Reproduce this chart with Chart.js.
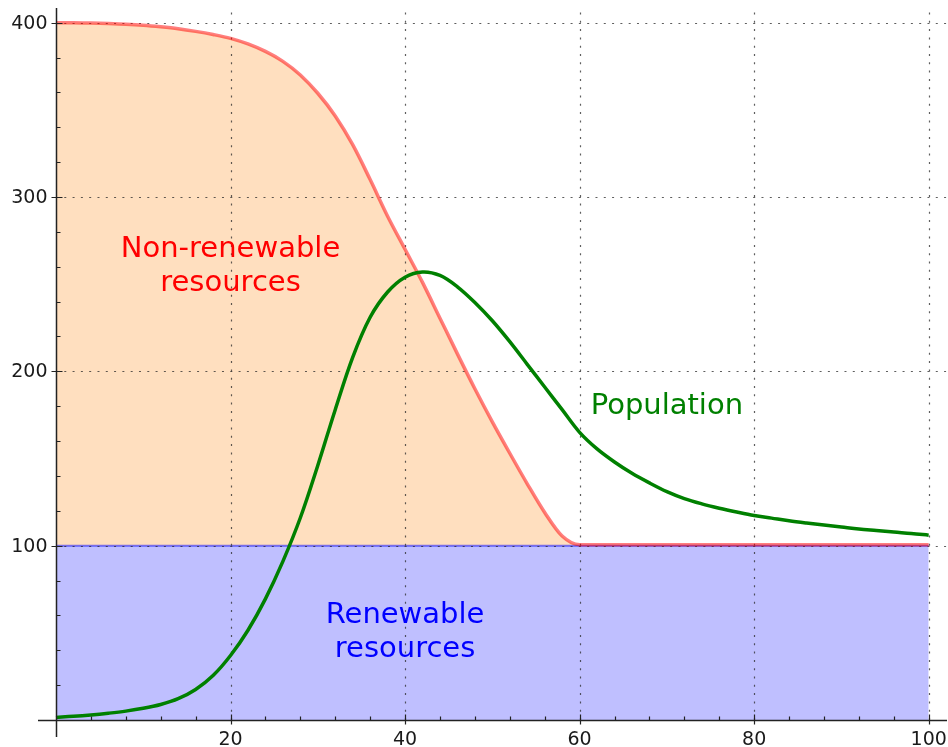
<!DOCTYPE html>
<html>
<head>
<meta charset="utf-8">
<script src="https://cdn.jsdelivr.net/npm/chart.js@4/dist/chart.umd.min.js"></script>
<style>
  html, body { margin: 0; padding: 0; background: #fff; }
  #wrap { width: 948px; height: 747px; }
</style>
</head>
<body>
<div id="wrap"><canvas id="resChart" width="948" height="747"></canvas></div>
<script>
// time axis shared by both curves (every 2 units)
var years = [0, 2, 4, 6, 8, 10, 12, 14, 16, 18, 20, 22, 24, 26, 28, 30, 32, 34, 36, 38,
             40, 42, 44, 46, 48, 50, 52, 54, 56, 58, 60, 62, 64, 66, 68, 70, 72, 74, 76, 78,
             80, 82, 84, 86, 88, 90, 92, 94, 96, 98, 100];
var nonRenewable = [400, 400, 399.8, 399.5, 399.1, 398.5, 397.6, 396.5, 395, 393.2,
                    391, 387.8, 383.5, 377.8, 370, 359.5, 346.5, 330, 310, 289,
                    270, 251, 230.5, 210, 190, 171, 153, 135.5, 119, 105.5,
                    100.5, 100.5, 100.5, 100.5, 100.5, 100.5, 100.5, 100.5, 100.5, 100.5,
                    100.5, 100.5, 100.5, 100.5, 100.5, 100.5, 100.5, 100.5, 100.5, 100.5, 100.5];
var population = [1.5, 2.1, 2.9, 3.9, 5.1, 6.7, 8.9, 12.2, 17.5, 25.5,
                  37, 51.5, 69.5, 91, 116, 146, 178, 208, 231, 245.5,
                  254, 257, 255, 248.5, 239.5, 229, 217, 204, 191, 178,
                  165, 155.5, 148, 141.5, 136, 131, 127, 124, 121.5, 119.3,
                  117.3, 115.8, 114.3, 113, 111.8, 110.7, 109.6, 108.7, 107.8, 107, 106];
var renewX = [0, 100];
var renewY = [100, 100];

var xTicks = [20, 40, 60, 80, 100];
var yTicks = [100, 200, 300, 400];
var xMinorStep = 4;
var yMinorStep = 20;

var nonRenewText = ['Non-renewable', 'resources'];
var renewText = ['Renewable', 'resources'];
var popText = ['Population'];

function pts(xs, ys) {
  return xs.map(function (x, i) { return { x: x, y: ys[i] }; });
}

var sagePlugin = {
  id: 'sageAxes',
  afterDatasetDraw: function (chart, args) {
    if (args.index !== 0) return;
    // dotted grid, drawn over the fills but under the curves
    var ctx = chart.ctx, xs = chart.scales.x, ys = chart.scales.y, area = chart.chartArea;
    var x0 = xs.getPixelForValue(0), y0 = ys.getPixelForValue(0);
    ctx.save();
    ctx.strokeStyle = 'rgba(40,40,40,0.75)';
    ctx.lineWidth = 1.2;
    ctx.setLineDash([2, 6.3]);
    xTicks.forEach(function (v) {
      var px = Math.round(xs.getPixelForValue(v)) + 0.5;
      ctx.beginPath(); ctx.moveTo(px, y0); ctx.lineTo(px, area.top); ctx.stroke();
    });
    yTicks.forEach(function (v) {
      var py = Math.round(ys.getPixelForValue(v)) + 0.5;
      ctx.beginPath(); ctx.moveTo(x0, py); ctx.lineTo(area.right, py); ctx.stroke();
    });
    ctx.restore();
  },
  afterDatasetsDraw: function (chart) {
    var ctx = chart.ctx, xs = chart.scales.x, ys = chart.scales.y, area = chart.chartArea;
    var x0 = Math.round(xs.getPixelForValue(0)) + 0.5;
    var y0 = Math.round(ys.getPixelForValue(0)) + 0.5;
    ctx.save();
    ctx.strokeStyle = '#222';
    ctx.lineWidth = 1.5;
    ctx.beginPath();
    ctx.moveTo(area.left, y0); ctx.lineTo(area.right, y0);
    ctx.moveTo(x0, area.top); ctx.lineTo(x0, area.bottom);
    ctx.stroke();

    ctx.lineWidth = 1.2;
    ctx.beginPath();
    for (var v = xMinorStep; v <= 100; v += xMinorStep) {
      var px = Math.round(xs.getPixelForValue(v)) + 0.5;
      var major = xTicks.indexOf(v) >= 0;
      ctx.moveTo(px, y0 + (major ? 4 : 0));
      ctx.lineTo(px, y0 - (major ? 6 : 4));
    }
    for (var w = yMinorStep; w <= 400; w += yMinorStep) {
      var py = Math.round(ys.getPixelForValue(w)) + 0.5;
      var majorY = yTicks.indexOf(w) >= 0;
      ctx.moveTo(x0 - (majorY ? 5 : 0), py);
      ctx.lineTo(x0 + (majorY ? 6 : 4), py);
    }
    ctx.stroke();

    ctx.fillStyle = '#1a1a1a';
    ctx.font = '19px "DejaVu Sans"';
    ctx.textAlign = 'center';
    ctx.textBaseline = 'top';
    xTicks.forEach(function (v) {
      ctx.fillText(String(v), xs.getPixelForValue(v), y0 + 10);
    });
    ctx.textAlign = 'right';
    ctx.textBaseline = 'middle';
    yTicks.forEach(function (v) {
      ctx.fillText(String(v), x0 - 9, ys.getPixelForValue(v) + 1);
    });

    // curve labels
    ctx.font = '29px "DejaVu Sans"';
    ctx.textAlign = 'center';
    ctx.textBaseline = 'middle';
    var notes = [
      { lines: nonRenewText, x: 20, y: 260, color: '#ff0000' },
      { lines: renewText, x: 40, y: 50, color: '#0000ff' },
      { lines: popText, x: 70, y: 180, color: '#008000' }
    ];
    notes.forEach(function (n) {
      var cx = xs.getPixelForValue(n.x), cy = ys.getPixelForValue(n.y);
      var lh = 34, top = cy - (n.lines.length - 1) * lh / 2;
      ctx.fillStyle = n.color;
      n.lines.forEach(function (t, i) { ctx.fillText(t, cx, top + i * lh); });
    });
    ctx.restore();
  }
};

new Chart(document.getElementById('resChart').getContext('2d'), {
  type: 'line',
  data: {
    datasets: [{
      label: 'Renewable resources',
      data: pts(renewX, renewY),
      borderColor: 'rgba(0,0,255,0.5)',
      backgroundColor: 'rgba(0,0,255,0.25)',
      borderWidth: 2,
      fill: 'origin',
      pointRadius: 0,
      order: 3
    }, {
      label: 'Non-renewable resources',
      data: pts(years, nonRenewable),
      borderColor: 'rgba(255,0,0,0.5)',
      backgroundColor: 'rgba(255,128,0,0.25)',
      borderWidth: 3.5,
      fill: { value: 100 },
      cubicInterpolationMode: 'monotone',
      pointRadius: 0,
      order: 2
    }, {
      label: 'Population',
      data: pts(years, population),
      borderColor: '#008000',
      borderWidth: 3.5,
      fill: false,
      tension: 0.35,
      pointRadius: 0,
      order: 1
    }]
  },
  options: {
    responsive: false,
    animation: false,
    layout: { padding: { left: 38, right: 1, top: 8, bottom: 10 } },
    plugins: {
      legend: { display: false },
      tooltip: { enabled: false },
      filler: { drawTime: 'beforeDatasetsDraw' }
    },
    scales: {
      x: { type: 'linear', min: -2.06, max: 102.1, display: false },
      y: { type: 'linear', min: -9.75, max: 408.4, display: false }
    }
  },
  plugins: [sagePlugin]
});
</script>
</body>
</html>
